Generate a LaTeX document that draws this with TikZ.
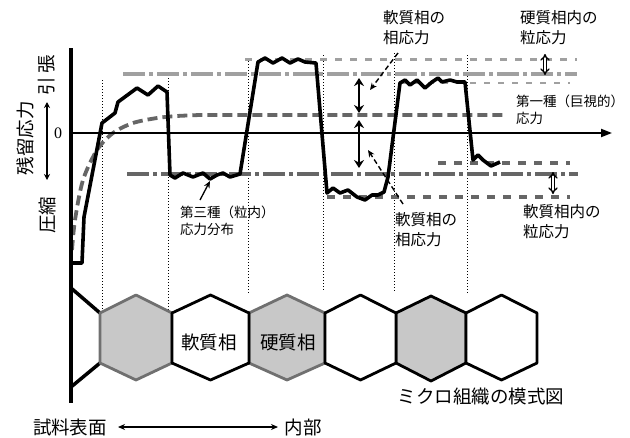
\documentclass[tikz,border=0pt]{standalone}
\usepackage{fontspec}
\setmainfont{Liberation Serif}
\newfontfamily\jp{Noto Sans CJK JP}
\usetikzlibrary{arrows.meta}
\definecolor{dk}{HTML}{666666}
\definecolor{lt}{HTML}{A0A0A0}
\definecolor{hexfill}{HTML}{C8C8C8}
\definecolor{hexedge}{HTML}{707070}
\begin{document}
\begin{tikzpicture}[x=1pt,y=-1pt,
  curve/.style={line width=3.6pt, line join=round},
  dotv/.style={line width=1pt, dash pattern=on 1pt off 2pt},
  darkdash/.style={draw=dk, line width=3.8pt, dash pattern=on 10pt off 5pt},
  darkdashs/.style={draw=dk, line width=3.2pt, dash pattern=on 8pt off 8pt},
  lightdash/.style={draw=lt, line width=3pt, dash pattern=on 7pt off 8pt},
  thindash/.style={draw=lt, line width=2pt, dash pattern=on 6pt off 8pt},
  dashdotlt/.style={draw=lt, line width=3.2pt, dash pattern=on 22pt off 4pt on 4pt off 4pt},
  dashdotdk/.style={draw=dk, line width=3.2pt, dash pattern=on 22pt off 4pt on 4pt off 4pt},
  lab/.style={font=\jp\fontsize{15.5}{20}\selectfont, align=left, inner sep=0pt, anchor=west},
  labs/.style={font=\jp\fontsize{13.5}{17}\selectfont, align=left, inner sep=0pt, anchor=west},
  big/.style={font=\jp\fontsize{18.5}{22}\selectfont, inner sep=0pt},
  hexg/.style={fill=hexfill, draw=hexedge, line width=2.8pt, line join=round},
  hexw/.style={fill=white, draw=black, line width=2.8pt, line join=round},
  dblarrow/.style={line width=2.2pt, {Stealth[length=8pt,width=10pt]}-{Stealth[length=8pt,width=10pt]}},
  hollow/.style={double=white, double distance=1.6pt, line width=1.4pt, {Implies}-{Implies}},
  dasharrow/.style={line width=1.4pt, dash pattern=on 5pt off 3pt, -{Stealth[length=7pt,width=6pt]}},
]
\useasboundingbox (0,0) rectangle (630,437);

% dotted verticals
\foreach \xx/\ya/\yb in {102/80/312, 168/75/312, 248/58/294, 323/55/290, 394/53/292, 467/55/293}
  \draw[dotv] (\xx,\ya) -- (\xx,\yb);

% reference lines
\draw[lightdash] (245,59) -- (577,59);
\draw[dashdotlt] (123,74) -- (577,74);
\draw[thindash] (400,83) -- (570,83);
\draw[darkdash] plot[smooth] coordinates {(72,250) (75,220) (83,180) (97,150) (113,133) (133,123) (157,118) (177,116) (200,115)} -- (503,115);
\draw[darkdashs] (438,163) -- (570,163);
\draw[dashdotdk] (127,174) -- (578,174);
\draw[darkdashs] (327,197) -- (570,197);

% axes
\draw[line width=3.5pt] (71,48) -- (71,403);
\node[font=\fontsize{16}{18}\selectfont, inner sep=0pt] (zero) at (58,133) {0};
\coordinate (ax0) at (71,133);
\coordinate (axend) at (612,133);
\draw[line width=2pt, -{Triangle[length=11pt,width=8pt]}] (ax0) -- (axend);

% main curve
\draw[curve] (72,263) -- (82,263) -- (84,217) -- (102,123) -- (115,113) -- (118,102) -- (137,88) -- (148,95) -- (158,86) -- (167,92)
  -- (170,175) -- (175,178) -- (183,173) -- (193,177) -- (203,173) -- (210,179) -- (217,175) -- (223,173) -- (230,177) -- (240,174)
  -- (258,62) -- (265,58) -- (273,63) -- (282,58) -- (290,63) -- (298,59) -- (305,62) -- (316,63)
  -- (327,193) -- (333,188) -- (340,193) -- (348,190) -- (357,197) -- (365,200) -- (372,195) -- (378,195) -- (384,192) -- (388,177)
  -- (400,83) -- (405,80) -- (410,85) -- (417,80) -- (425,88) -- (432,82) -- (438,78) -- (442,82) -- (450,80) -- (457,82) -- (465,82)
  -- (473,160) -- (478,155) -- (483,160) -- (491,166) -- (500,162);

% double arrows
\coordinate (u1) at (359,78); \coordinate (u2) at (359,113);
\coordinate (l1) at (359,120); \coordinate (l2) at (359,168);
\draw[dblarrow] (u1) -- (u2);
\draw[dblarrow] (l1) -- (l2);
\coordinate (h1) at (545,54); \coordinate (h2) at (545,75);
\draw[hollow] (h1) -- (h2);
\coordinate (s1) at (553,172); \coordinate (s2) at (553,194);
\draw[hollow] (s1) -- (s2);

% labels
\node[lab] (softA) at (383,28) {軟質相の\\相応力};
\node[lab] (hardG) at (520,28) {硬質相内の\\粒応力};
\node[labs] (first) at (516,110) {第一種（巨視的）\\応力};
\node[labs] (third) at (180,221) {第三種（粒内）\\応力分布};
\node[lab] (softB) at (395,230) {軟質相の\\相応力};
\node[lab] (softG) at (523,222) {軟質相内の\\粒応力};

\coordinate (ta) at (398,53); \coordinate (tb) at (370,90);
\draw[dasharrow] (ta) -- (tb);
\coordinate (ba) at (403,204); \coordinate (bb) at (368,150);
\draw[dasharrow] (ba) -- (bb);
\coordinate (ra) at (200,200); \coordinate (rb) at (210,181);
\draw[line width=1.3pt, -{Stealth[length=7pt,width=6pt]}] (ra) -- (rb);

% y-axis labels
\node[big, rotate=90] (yl) at (25,138) {残留応力};
\node[big, rotate=90] (ten) at (47,75) {引\hspace{4pt}張};
\node[big, rotate=90] (com) at (47,215) {圧縮};
\coordinate (ya) at (47,102); \coordinate (yb) at (47,180);
\draw[line width=1.1pt, {Stealth[length=6pt,width=6pt]}-{Stealth[length=6pt,width=6pt]}] (ya) -- (yb);

% microstructure
\draw[line width=3.5pt] (71,288) -- (100,313);
\draw[line width=3.5pt] (71,387) -- (100,363);
\foreach \xl/\xr in {100/172, 249/325}
  \draw[hexg] (\xl,313) -- ({(\xl+\xr)/2},295) -- (\xr,313) -- (\xr,363) -- ({(\xl+\xr)/2},380) -- (\xl,363) -- cycle;
\draw[hexg, draw=black] (396,313) -- (431,296) -- (466,313) -- (466,363) -- (431,381) -- (396,363) -- cycle;
\foreach \xl/\xr in {172/249, 325/396, 466/537}
  \draw[hexw] (\xl,313) -- ({(\xl+\xr)/2},295) -- (\xr,313) -- (\xr,363) -- ({(\xl+\xr)/2},380) -- (\xl,363) -- cycle;
\node[big] (soft) at (209,342) {軟質相};
\node[big] (hard) at (288,342) {硬質相};
\node[big] (micro) at (481,397) {ミクロ組織の模式図};

% bottom
\node[big] (surf) at (70,427) {試料表面};
\node[big] (inner) at (303,427) {内部};
\coordinate (da) at (118,427); \coordinate (db) at (278,427);
\draw[line width=1.1pt, {Stealth[length=7pt,width=6pt]}-{Stealth[length=7pt,width=6pt]}] (da) -- (db);
\end{tikzpicture}
\end{document}
